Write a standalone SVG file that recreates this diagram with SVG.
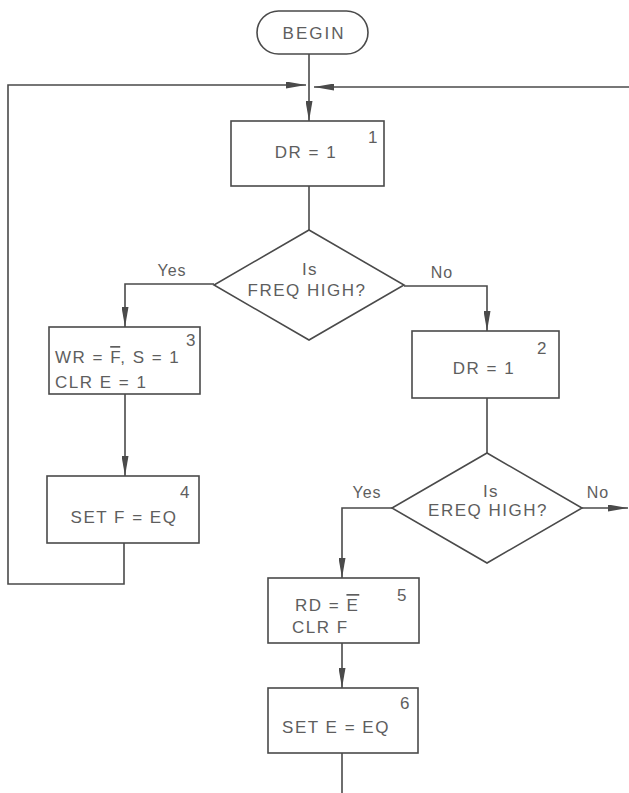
<svg xmlns="http://www.w3.org/2000/svg" width="629" height="793" viewBox="0 0 629 793">
<style>
.shape{fill:#fff;stroke:#4a4a4a;stroke-width:1.6}
.conn{fill:none;stroke:#4a4a4a;stroke-width:1.6}
.t{font-family:"Liberation Sans",Arial,sans-serif;font-size:17px;fill:#5e5e5e;letter-spacing:1.5px;dominant-baseline:central}
.c{text-anchor:middle}
.lbl{font-family:"Liberation Sans",Arial,sans-serif;font-size:16px;fill:#5e5e5e;letter-spacing:1px;dominant-baseline:central;text-anchor:middle}
.ov{text-decoration:overline}
</style>
<defs>
<marker id="arr" markerUnits="userSpaceOnUse" viewBox="0 0 20 7" markerWidth="20" markerHeight="7" refX="20" refY="3.5" orient="auto">
<path d="M0,0 L20,3.5 L0,7 Z" fill="#4a4a4a"/>
</marker>
</defs>
<rect width="629" height="793" fill="#fff"/>
<g id="connectors">
<path class="conn" d="M309,54 V121" marker-end="url(#arr)"/>
<path class="conn" d="M124,543 V584 H8 V85 H306" marker-end="url(#arr)"/>
<path class="conn" d="M629,87 H314" marker-end="url(#arr)"/>
<path class="conn" d="M309,186 V230"/>
<path class="conn" d="M214,284 H125 V327" marker-end="url(#arr)"/>
<path class="conn" d="M125,394 V476" marker-end="url(#arr)"/>
<path class="conn" d="M404,286 H487 V331" marker-end="url(#arr)"/>
<path class="conn" d="M487,398 V453"/>
<path class="conn" d="M392,508 H342 V578" marker-end="url(#arr)"/>
<path class="conn" d="M582,508 H628" marker-end="url(#arr)"/>
<path class="conn" d="M342,643 V688" marker-end="url(#arr)"/>
<path class="conn" d="M342,753 V793"/>
<text class="lbl" x="172" y="270">Yes</text>
<text class="lbl" x="442" y="272">No</text>
<text class="lbl" x="367" y="492">Yes</text>
<text class="lbl" x="598" y="492">No</text>
</g>
<g id="begin">
<rect class="shape" x="257" y="11" width="111" height="43" rx="21.5"/>
<text class="t c" x="314" y="33" style="letter-spacing:2px">BEGIN</text>
</g>
<g id="box1">
<rect class="shape" x="231" y="121" width="153" height="65"/>
<text class="t c" x="306" y="152">DR = 1</text>
<text class="t" x="368" y="137">1</text>
</g>
<g id="dec1">
<polygon class="shape" points="309,230 404,285 309,340 214,285"/>
<text class="t c" x="310" y="269">Is</text>
<text class="t c" x="307" y="290">FREQ HIGH?</text>
</g>
<g id="box3">
<rect class="shape" x="49" y="327" width="151" height="67"/>
<text class="t" x="55" y="357">WR = <tspan class="ov">F</tspan>, S = 1</text>
<text class="t" x="55" y="382">CLR E = 1</text>
<text class="t" x="186" y="340">3</text>
</g>
<g id="box4">
<rect class="shape" x="47" y="476" width="152" height="67"/>
<text class="t c" x="124" y="517">SET F = EQ</text>
<text class="t" x="180" y="492">4</text>
</g>
<g id="box2">
<rect class="shape" x="412" y="331" width="147" height="67"/>
<text class="t c" x="484" y="368">DR = 1</text>
<text class="t" x="537" y="348">2</text>
</g>
<g id="dec2">
<polygon class="shape" points="487,453 582,508 487,563 392,508"/>
<text class="t c" x="491" y="491">Is</text>
<text class="t c" x="488" y="510">EREQ HIGH?</text>
</g>
<g id="box5">
<rect class="shape" x="268" y="578" width="151" height="65"/>
<text class="t" x="295" y="605">RD = <tspan class="ov">E</tspan></text>
<text class="t" x="292" y="627">CLR F</text>
<text class="t" x="397" y="595">5</text>
</g>
<g id="box6">
<rect class="shape" x="268" y="688" width="150" height="65"/>
<text class="t c" x="336" y="727">SET E = EQ</text>
<text class="t" x="400" y="703">6</text>
</g>
</svg>
